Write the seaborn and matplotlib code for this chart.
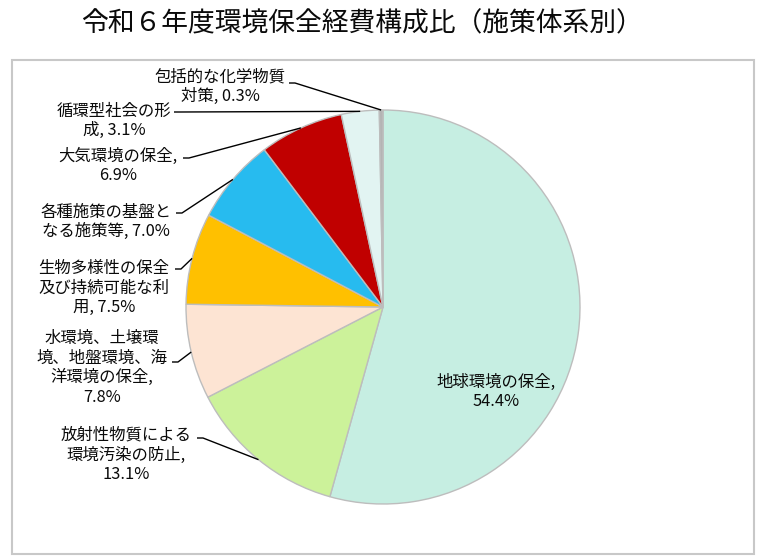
import numpy as np
import matplotlib
matplotlib.use("Agg")
import matplotlib.pyplot as plt
import seaborn as sns
from matplotlib.patches import Rectangle

# データ（施策体系別の構成比, %）
labels = [
    "地球環境の保全,\n54.4%",
    "放射性物質による\n環境汚染の防止,\n13.1%",
    "水環境、土壌環\n境、地盤環境、海\n洋環境の保全,\n7.8%",
    "生物多様性の保全\n及び持続可能な利\n用, 7.5%",
    "各種施策の基盤と\nなる施策等, 7.0%",
    "大気環境の保全,\n6.9%",
    "循環型社会の形\n成, 3.1%",
    "包括的な化学物質\n対策, 0.3%",
]
values = [54.4, 13.1, 7.8, 7.5, 7.0, 6.9, 3.1, 0.3]
colors = ["#c6eee2", "#ccf29a", "#fde4d3", "#ffc000",
          "#27bbef", "#c00000", "#e2f4f2", "#b4b4b4"]

title = "令和６年度環境保全経費構成比（施策体系別）"

sns.set_theme(style="white")
plt.rcParams["font.family"] = ["Noto Sans CJK JP", "DejaVu Sans"]

W, H = 763, 560
fig = plt.figure(figsize=(W / 100, H / 100), dpi=100)
ax = fig.add_axes([0, 0, 1, 1])


def py(y):
    # 画像のピクセル座標（上から）を軸座標に変換
    return H - y


cx, cy, r = 383, py(307), 197
wedges, _ = ax.pie(values, colors=colors, startangle=90, counterclock=False,
                   center=(cx, cy), radius=r,
                   wedgeprops=dict(edgecolor="#bdbdbd", linewidth=1.0))
ax.set_xlim(0, W)
ax.set_ylim(0, H)
ax.set_aspect("equal")
ax.axis("off")

# 外枠
ax.add_patch(Rectangle((11.5, py(554)), 742.5, 494, fill=False,
                       edgecolor="#c8c8c8", linewidth=1.5))

ax.text(362, py(24), title, ha="center", va="center", fontsize=19.3,
        color="#0a0a0a")

fs = 11.8
# 内側ラベル
ax.text(496, py(392), labels[0], ha="center", va="center", fontsize=fs,
        color="#0a0a0a", linespacing=1.2)

# 外側ラベル: (テキスト中心x, 中心y, 引出線の始点x, 始点y)
outer = {
    1: (126, 455, 197, 438),
    2: (102, 368, 172, 362),
    3: (104, 288, 175, 269),
    4: (106, 222, 176, 213),
    5: (118, 166, 183, 158),
    6: (114, 121, 174, 112),
    7: (220, 87, 289, 83),
}
for i, (tx, ty, lx, ly) in outer.items():
    ax.text(tx, py(ty), labels[i], ha="center", va="center", fontsize=fs,
            color="#0a0a0a", linespacing=1.2)
    w = wedges[i]
    ang = np.deg2rad((w.theta1 + w.theta2) / 2)
    ex, ey = cx + r * np.cos(ang), cy + r * np.sin(ang)
    ax.plot([lx, lx + 6, ex], [py(ly), py(ly), ey], color="black",
            linewidth=1.0, solid_capstyle="butt")

fig.savefig("out.png", dpi=100, facecolor="white")
